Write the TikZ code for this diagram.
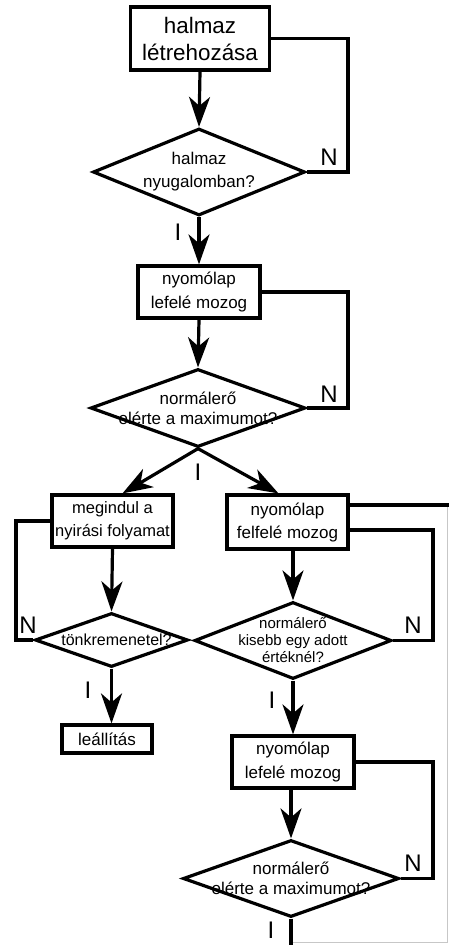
\documentclass[tikz,border=0pt]{standalone}
\usepackage{fontspec}
\setmainfont{Liberation Sans}
\usetikzlibrary{shapes.geometric,arrows.meta,calc}
\tikzset{
  ln/.style={line width=3.2pt, line join=miter},
  arr/.style={ln, -{Stealth[length=30pt,width=21pt,inset=9pt]}},
  box/.style={draw, ln, rectangle, inner sep=0pt, align=center},
  dia/.style={draw, ln, diamond, inner sep=0pt},
  lab/.style={font=\fontsize{24}{24}\selectfont, inner sep=0pt},
  frame/.style={draw=black!22, line width=0.9pt}
}
\begin{document}
\begin{tikzpicture}[x=1pt,y=-1pt]
\useasboundingbox (0,0) rectangle (449,945);
% boxes
\node[box, minimum width=139pt, minimum height=63pt, font=\fontsize{22.4}{27}\selectfont] (b1) at (200,38.5) {halmaz\\létrehozása};
\node[box, minimum width=122pt, minimum height=52pt, font=\fontsize{17}{24}\selectfont] (b2) at (199,292) {nyomólap\\lefelé mozog};
\node[box, minimum width=121pt, minimum height=52pt, font=\fontsize{16.5}{23}\selectfont] (b3) at (112.5,521) {megindul a\\nyirási folyamat};
\node[box, minimum width=121pt, minimum height=54pt, font=\fontsize{17}{23}\selectfont] (b4) at (287.5,522) {nyomólap\\felfelé mozog};
\node[box, minimum width=90pt, minimum height=28pt, font=\fontsize{17}{20}\selectfont] (b5) at (107,739) {leállítás};
\node[box, minimum width=122pt, minimum height=52pt, font=\fontsize{17}{24}\selectfont] (b6) at (293,762) {nyomólap\\lefelé mozog};
% diamonds
\node[dia, minimum width=212pt, minimum height=87pt,
  label={[align=center, font=\fontsize{17}{23}\selectfont]center:halmaz\\nyugalomban?}] (d1) at (199,172) {};
\node[dia, minimum width=215pt, minimum height=78pt,
  label={[align=center, font=\fontsize{17}{20}\selectfont]center:normálerő\\elérte a maximumot?}] (d2) at (198,408) {};
\node[dia, minimum width=153pt, minimum height=54pt,
  label={[align=center, font=\fontsize{16}{20}\selectfont, xshift=5pt]center:tönkremenetel?}] (d3) at (111.5,640) {};
\node[dia, minimum width=197pt, minimum height=77pt,
  label={[align=center, font=\fontsize{15}{17}\selectfont]center:normálerő\\kisebb egy adott\\értéknél?}] (d4) at (293,640.5) {};
\node[dia, minimum width=216pt, minimum height=77pt,
  label={[align=center, font=\fontsize{17}{20}\selectfont]center:normálerő\\elérte a maximumot?}] (d5) at (291,878.5) {};
% main arrows
\draw[arr] (b1.south) -- (d1.north);
\draw[arr] (d1.south) -- (b2.north);
\draw[arr] (b2.south) -- (d2.north);
\draw[arr] (d2.south) -- ($(b3.north)+(10,0)$);
\draw[arr] (d2.south) -- ($(b4.north)+(-9,0)$);
\draw[arr] (b3.south) -- (d3.north);
\draw[arr] (d3.south) -- (b5.north -| d3.south);
\draw[arr] (b4.south -| d4.north) -- (d4.north);
\draw[arr] (d4.south) -- (b6.north -| d4.south);
\draw[arr] (b6.south -| d5.north) -- (d5.north);
% loops
\coordinate (r1) at (348,172);
\draw[ln] (b1.east) -| (r1) -- (d1.east);
\coordinate (r2) at (348,408);
\draw[ln] (b2.east) -| (r2) -- (d2.east);
\coordinate (r3) at (16,640);
\draw[ln] (b3.west) -| (r3) -- (d3.west);
\coordinate (r4) at (433,530);
\draw[ln] (b4.east |- r4) -- (r4) |- (d4.east);
\coordinate (r5) at (433,878.5);
\draw[ln] (b6.east) -| (r5) -- (d5.east);
\coordinate (r6) at (452,505);
\draw[ln] (b4.east |- r6) -- (r6);
\coordinate (r7) at (291,950);
\draw[ln] (d5.south) -- (r7);
% frame artefact
\draw[frame] (447,507) -- (447,942) -- (293,942);
% labels
\node[lab] (n1) at (329,157) {N};
\node[lab] (n2) at (329,394) {N};
\node[lab] (n3) at (28,625) {N};
\node[lab] (n4) at (413,625) {N};
\node[lab] (n5) at (413,863) {N};
\node[lab] (i1) at (178,232) {I};
\node[lab] (i2) at (198,472) {I};
\node[lab] (i3) at (88,690) {I};
\node[lab] (i4) at (272,700) {I};
\node[lab] (i5) at (271,930) {I};
\end{tikzpicture}
\end{document}
